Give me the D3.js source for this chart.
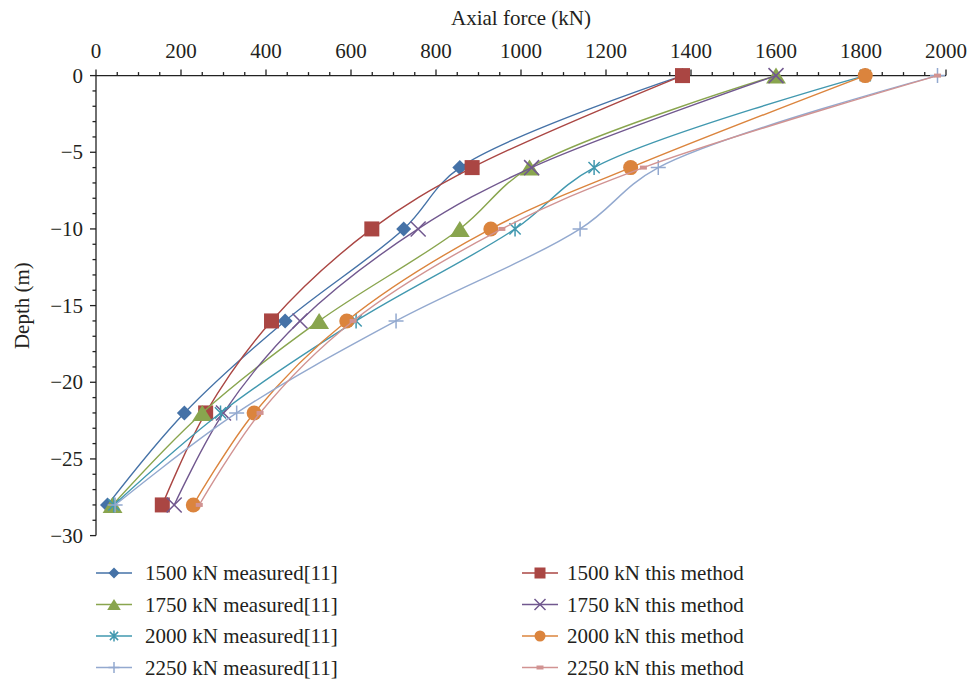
<!DOCTYPE html>
<html><head><meta charset="utf-8">
<script src="https://cdn.jsdelivr.net/npm/d3@7"></script>
<style>
html,body{margin:0;padding:0;background:#fff;}
svg{display:block;font-family:"Liberation Serif","Times New Roman",serif;}
</style></head>
<body><svg id="chart" width="972" height="682"></svg>
<script>
const depths = [0, -6, -10, -16, -22, -28];
const m1500 = [1380, 856, 724, 445, 208, 27];
const t1500 = [1380, 885, 649, 413, 258, 156];
const m1750 = [1600, 1020, 856, 525, 250, 39];
const t1750 = [1600, 1025, 758, 480, 300, 184];
const m2000 = [1810, 1172, 986, 612, 293, 42];
const t2000 = [1810, 1258, 929, 590, 372, 229];
const m2250 = [1980, 1323, 1139, 706, 331, 45];
const t2250 = [1980, 1288, 955, 605, 386, 243];
const seriesNames = ["1500 kN measured[11]","1500 kN this method","1750 kN measured[11]","1750 kN this method",
  "2000 kN measured[11]","2000 kN this method","2250 kN measured[11]","2250 kN this method"];
const xTicks = [0,200,400,600,800,1000,1200,1400,1600,1800,2000];
const yTicks = [0,-5,-10,-15,-20,-25,-30];

const seriesValues = [m1500,t1500,m1750,t1750,m2000,t2000,m2250,t2250];
const colors = ["#4572A7","#AA4643","#89A54E","#71588F","#4198AF","#DB843D","#93A9CF","#D19392"];
const markers = ["diamond","square","triangle","x","asterisk","circle","plus","dash"];

const svg = d3.select("#chart");
const x = d3.scaleLinear().domain([0,2000]).range([96,946]);
const y = d3.scaleLinear().domain([0,-30]).range([75.6,535.6]);
const FS = 21;

// axes
const gx = svg.append("g").attr("transform",`translate(0,${y(0)})`);
gx.append("line").attr("x1",x(0)).attr("x2",x(2000)).attr("stroke","#222").attr("stroke-width",1.3);
gx.selectAll("line.t").data(d3.range(0,2001,50)).enter().append("line")
  .attr("x1",d=>x(d)).attr("x2",d=>x(d)).attr("y1",0).attr("y2",d=>d%200===0?-6:-3.5)
  .attr("stroke","#222").attr("stroke-width",1.3);
gx.selectAll("text").data(xTicks).enter().append("text")
  .attr("x",d=>x(d)).attr("y",-18).attr("text-anchor","middle").attr("font-size",FS).attr("fill","#231f20")
  .text(d=>d);

const gy = svg.append("g").attr("transform",`translate(${x(0)},0)`);
gy.append("line").attr("y1",y(0)).attr("y2",y(-30)).attr("stroke","#222").attr("stroke-width",1.3);
gy.selectAll("line.t").data(d3.range(0,-31,-1)).enter().append("line")
  .attr("y1",d=>y(d)).attr("y2",d=>y(d)).attr("x1",0).attr("x2",d=>d%5===0?-6:-3.5)
  .attr("stroke","#222").attr("stroke-width",1.3);
gy.selectAll("text").data(yTicks).enter().append("text")
  .attr("x",-13).attr("y",d=>y(d)+7).attr("text-anchor","end").attr("font-size",FS).attr("fill","#231f20")
  .text(d=>d===0?"0":"\u2212"+Math.abs(d));

svg.append("text").attr("x",(x(0)+x(2000))/2).attr("y",25).attr("text-anchor","middle")
  .attr("font-size",FS).attr("fill","#231f20").text("Axial force (kN)");
svg.append("text").attr("transform",`translate(29,${(y(0)+y(-30))/2}) rotate(-90)`).attr("text-anchor","middle")
  .attr("font-size",FS).attr("fill","#231f20").text("Depth (m)");

function drawMarker(g, type, color, cx, cy, s){
  const h = s/2;
  if(type==="diamond"){
    g.append("path").attr("d",`M${cx},${cy-h}L${cx+h},${cy}L${cx},${cy+h}L${cx-h},${cy}Z`).attr("fill",color);
  } else if(type==="square"){
    g.append("rect").attr("x",cx-h).attr("y",cy-h).attr("width",s).attr("height",s).attr("fill",color);
  } else if(type==="triangle"){
    const w = s*0.62;
    g.append("path").attr("d",`M${cx},${cy-h}L${cx+w},${cy+h}L${cx-w},${cy+h}Z`).attr("fill",color);
  } else if(type==="circle"){
    g.append("circle").attr("cx",cx).attr("cy",cy).attr("r",h).attr("fill",color);
  } else if(type==="x"){
    g.append("path").attr("d",`M${cx-h},${cy-h}L${cx+h},${cy+h}M${cx-h},${cy+h}L${cx+h},${cy-h}`)
      .attr("stroke",color).attr("stroke-width",1.5).attr("fill","none");
  } else if(type==="asterisk"){
    const a = h*0.75;
    g.append("path").attr("d",`M${cx-a},${cy-a}L${cx+a},${cy+a}M${cx-a},${cy+a}L${cx+a},${cy-a}M${cx},${cy-h}L${cx},${cy+h}`)
      .attr("stroke",color).attr("stroke-width",1.5).attr("fill","none");
  } else if(type==="plus"){
    g.append("path").attr("d",`M${cx-h},${cy}L${cx+h},${cy}M${cx},${cy-h}L${cx},${cy+h}`)
      .attr("stroke",color).attr("stroke-width",1.5).attr("fill","none");
  } else if(type==="dash"){
    g.append("rect").attr("x",cx-3.5).attr("y",cy-2).attr("width",7).attr("height",4).attr("fill",color);
  }
}

const line = d3.line().x(d=>x(d[0])).y(d=>y(d[1])).curve(d3.curveCatmullRom.alpha(0.5));
const plot = svg.append("g");
seriesValues.forEach((vals,i)=>{
  const pts = vals.map((v,j)=>[v,depths[j]]);
  const g = plot.append("g");
  g.append("path").attr("d",line(pts)).attr("fill","none").attr("stroke",colors[i]).attr("stroke-width",1.4);
  pts.forEach(p=>drawMarker(g, markers[i], colors[i], x(p[0]), y(p[1]), markers[i]==="triangle"?16:15));
});

// legend
const leg = svg.append("g");
seriesNames.forEach((name,i)=>{
  const col = i%2, row = Math.floor(i/2);
  const lx = col===0?96:522, ly = 573 + row*31.5;
  const g = leg.append("g");
  g.append("line").attr("x1",lx).attr("x2",lx+36).attr("y1",ly).attr("y2",ly).attr("stroke",colors[i]).attr("stroke-width",1.4);
  drawMarker(g, markers[i], colors[i], lx+18, ly, markers[i]==="dash"?6:11);
  g.append("text").attr("x",col===0?145:567).attr("y",ly+7).attr("font-size",FS).attr("fill","#231f20").text(name);
});
</script></body></html>
